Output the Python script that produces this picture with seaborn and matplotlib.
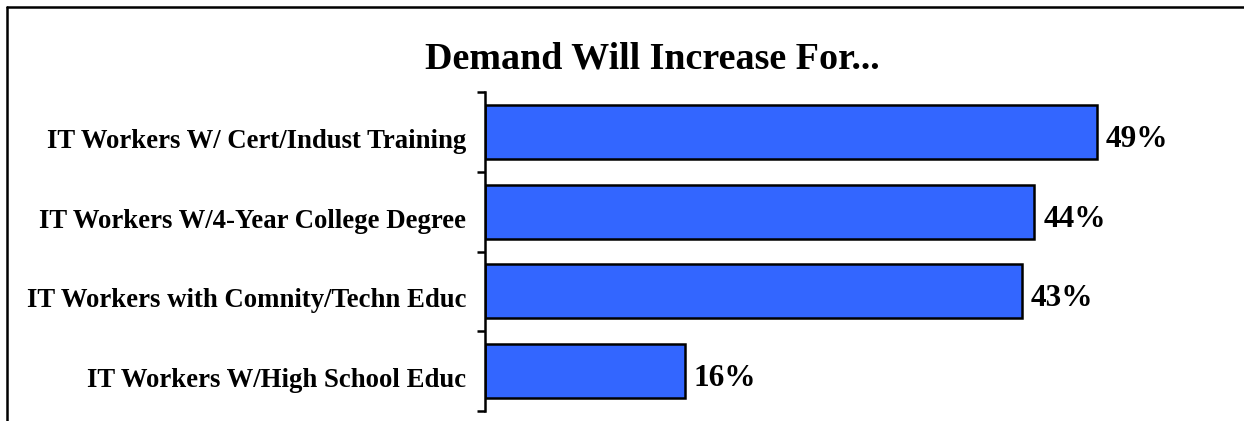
import matplotlib
matplotlib.use("Agg")
import matplotlib.pyplot as plt
import matplotlib.transforms as mtransforms
import seaborn as sns
import pandas as pd
from matplotlib.lines import Line2D

categories = [
    "IT Workers W/ Cert/Indust Training",
    "IT Workers W/4-Year College Degree",
    "IT Workers with Comnity/Techn Educ",
    "IT Workers W/High School Educ",
]
values = [49, 44, 43, 16]
title = "Demand Will Increase For..."

df = pd.DataFrame({"category": categories, "value": values})

sns.set_theme(style="white")
plt.rcParams["font.family"] = ["Liberation Serif", "DejaVu Serif"]

W, H = 1244, 421
fig = plt.figure(figsize=(W / 100, H / 100), dpi=100)
ax = fig.add_axes([485 / W, 1 - 411 / H, 749 / W, 319 / H])

sns.barplot(data=df, x="value", y="category", orient="h", color="#3366FF",
            saturation=1, width=0.675, edgecolor="black", linewidth=1.8, ax=ax)

ax.set_xlim(0, 60)
ax.set_ylim(3.5, -0.5)
ax.set_xlabel("")
ax.set_ylabel("")
ax.set_xticks([])
for s in ["top", "right", "bottom"]:
    ax.spines[s].set_visible(False)
ax.spines["left"].set_linewidth(1.8)
ax.spines["left"].set_color("black")

ax.set_yticks(range(len(categories)))
ax.set_yticklabels(categories, fontsize=19.3, fontweight="bold", color="black")
ax.tick_params(axis="y", which="major", length=0, pad=13.5)
ax.set_yticks([i - 0.5 for i in range(len(categories) + 1)], minor=True)
ax.tick_params(axis="y", which="minor", length=6, width=1.8, color="black", direction="out", left=True)
shift = mtransforms.ScaledTranslation(0, -6.5 / 100, fig.dpi_scale_trans)
for lbl in ax.get_yticklabels():
    lbl.set_transform(lbl.get_transform() + shift)

for i, v in enumerate(values):
    ax.annotate(f"{v}%", xy=(v, i), xytext=(6.5, -5.4), textcoords="offset points",
                ha="left", va="center", fontsize=22.5, fontweight="bold", color="black")

fig.text(652 / W, 1 - 59 / H, title, ha="center", va="center",
         fontsize=27.4, fontweight="bold", color="black")

# outer frame (top and left only, as in the reference crop)
fig.add_artist(Line2D([7.5 / W, 1.0], [1 - 6.5 / H, 1 - 6.5 / H], transform=fig.transFigure,
                      color="black", linewidth=1.8))
fig.add_artist(Line2D([7.5 / W, 7.5 / W], [0, 1 - 6.5 / H], transform=fig.transFigure,
                      color="black", linewidth=1.8))

fig.savefig("out.png", dpi=100, facecolor="white")
